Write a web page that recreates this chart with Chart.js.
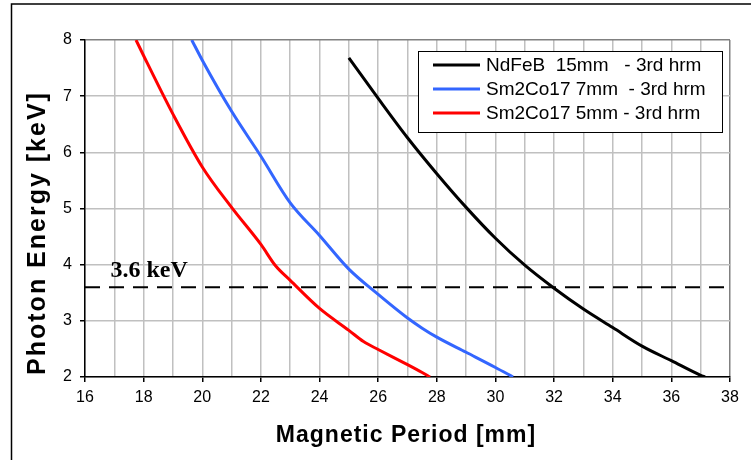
<!DOCTYPE html>
<html>
<head>
<meta charset="utf-8">
<script src="https://cdn.jsdelivr.net/npm/chart.js@4/dist/chart.umd.min.js"></script>
<style>
  html, body { margin: 0; padding: 0; background: #fff; }
  #wrap { width: 751px; height: 460px; position: relative; }
</style>
</head>
<body>
<div id="wrap"><canvas id="myChart"></canvas></div>
<script>
// values
let ndfebPeriod = [25, 26, 27, 28, 29, 30, 31, 32, 33, 34, 35, 36, 37, 37.15];
let ndfebEnergy = [7.68, 6.96, 6.26, 5.62, 5.02, 4.47, 3.99, 3.58, 3.21, 2.88, 2.55, 2.29, 2.03, 2.0];

let sm7Period = [19.64, 20, 21, 22, 23, 24, 25, 26, 27, 27.5, 28, 29, 30, 30.6];
let sm7Energy = [8.0, 7.64, 6.73, 5.93, 5.1, 4.52, 3.92, 3.47, 3.05, 2.87, 2.71, 2.44, 2.17, 2.0];

let sm5Period = [17.74, 18, 19, 20, 21, 22, 22.5, 23, 24, 25, 25.5, 26, 27, 27.5, 27.77];
let sm5Energy = [8.0, 7.72, 6.68, 5.74, 5.02, 4.36, 3.98, 3.72, 3.22, 2.83, 2.63, 2.49, 2.22, 2.08, 2.0];

let seriesLabels = ["NdFeB  15mm   - 3rd hrm", "Sm2Co17 7mm  - 3rd hrm", "Sm2Co17 5mm - 3rd hrm"];
let seriesColors = ["#000000", "#3366ff", "#ff0000"];

let targetEnergy = 3.6;
let targetLabel = "3.6 keV";
let periodRange = [16, 38];
let energyRange = [2, 8];

const zip = (xs, ys) => xs.map((x, i) => ({x: x, y: ys[i]}));

// frame, axis titles, legend and the 3.6 keV label
const decorations = {
  id: 'decorations',
  beforeDraw(chart) {
    let c = chart.ctx;
    c.save();
    c.fillStyle = '#fff';
    c.fillRect(0, 0, chart.width, chart.height);
    c.strokeStyle = '#000';
    c.lineWidth = 1.5;
    c.strokeRect(11.5, 4, chart.width + 20, chart.height + 20);
    c.restore();
  },
  afterDraw(chart) {
    let c = chart.ctx, xs = chart.scales.x, ys = chart.scales.y;
    c.save();
    c.fillStyle = '#000';
    c.textAlign = 'center';
    c.textBaseline = 'alphabetic';

    // axis titles
    c.font = 'bold 23px "Liberation Sans", Arial, sans-serif';
    c.letterSpacing = '1px';
    c.fillText('Magnetic Period [mm]', 406, 442);
    c.save();
    c.translate(45, 233);
    c.rotate(-Math.PI / 2);
    c.font = 'bold 25px "Liberation Sans", Arial, sans-serif';
    c.letterSpacing = '2px';
    c.fillText('Photon Energy [keV]', 0, 0);
    c.restore();
    c.letterSpacing = '0px';

    // 3.6 keV label
    c.font = 'bold 24px "Liberation Serif", "Times New Roman", serif';
    c.textAlign = 'left';
    c.fillText(targetLabel, xs.getPixelForValue(16.87), ys.getPixelForValue(targetEnergy) - 10);

    // legend
    let bx = 418, by = 51, bw = 304, bh = 81;
    c.fillStyle = '#fff';
    c.fillRect(bx, by, bw, bh);
    c.strokeStyle = '#000';
    c.lineWidth = 1;
    c.strokeRect(bx + 0.5, by + 0.5, bw, bh);
    c.font = '19px "Liberation Sans", Arial, sans-serif';
    c.textBaseline = 'middle';
    for (let i = 0; i < 3; i++) {
      let ds = chart.data.datasets[i];
      let ry = 65 + i * 24;
      c.strokeStyle = ds.borderColor;
      c.lineWidth = 3;
      c.beginPath();
      c.moveTo(433, ry);
      c.lineTo(480, ry);
      c.stroke();
      c.fillStyle = '#000';
      c.fillText(ds.label, 486, ry + 1);
    }
    c.restore();
  }
};

let ctx = document.getElementById('myChart').getContext('2d');
let datasets = seriesLabels.map((label, i) => ({
  label: label,
  data: [zip(ndfebPeriod, ndfebEnergy), zip(sm7Period, sm7Energy), zip(sm5Period, sm5Energy)][i],
  borderColor: seriesColors[i],
  borderWidth: 3,
  pointRadius: 0,
  cubicInterpolationMode: 'monotone',
  fill: false
}));
datasets.push({
  label: targetLabel,
  data: [{x: periodRange[0], y: targetEnergy}, {x: periodRange[1], y: targetEnergy}],
  borderColor: '#000',
  borderWidth: 2,
  borderDash: [15, 9],
  pointRadius: 0,
  fill: false
});

let myChart = new Chart(ctx, {
  type: 'line',
  data: {datasets: datasets},
  options: {
    responsive: true,
    maintainAspectRatio: false,
    animation: false,
    layout: {padding: {left: 0, top: 40, right: 21, bottom: 0}},
    plugins: {legend: {display: false}, tooltip: {enabled: false}},
    scales: {
      x: {
        type: 'linear',
        min: periodRange[0],
        max: periodRange[1],
        afterFit: (s) => { s.height = 83; },
        ticks: {
          stepSize: 1,
          padding: 6,
          color: '#000',
          font: {family: '"Liberation Sans", Arial, sans-serif', size: 16},
          maxRotation: 0,
          autoSkip: false,
          callback: (v) => (v % 2 === 0 ? String(v) : '')
        },
        grid: {
          color: (c) => (c.tick && c.tick.value === periodRange[1] ? '#808080' : '#c0c0c0'),
          lineWidth: 1.5,
          tickLength: 5,
          tickColor: (c) => (c.tick && c.tick.value % 2 === 0 ? '#000' : 'rgba(0,0,0,0)')
        },
        border: {color: '#000', width: 1.5}
      },
      y: {
        type: 'linear',
        min: energyRange[0],
        max: energyRange[1],
        afterFit: (s) => { s.width = 85; },
        ticks: {
          stepSize: 1,
          padding: 8,
          color: '#000',
          font: {family: '"Liberation Sans", Arial, sans-serif', size: 16}
        },
        grid: {
          color: (c) => (c.tick && c.tick.value === energyRange[1] ? '#808080' : '#c0c0c0'),
          lineWidth: 1.5,
          tickLength: 5,
          tickColor: '#000'
        },
        border: {color: '#000', width: 1.5}
      }
    }
  },
  plugins: [decorations]
});
</script>
</body>
</html>
